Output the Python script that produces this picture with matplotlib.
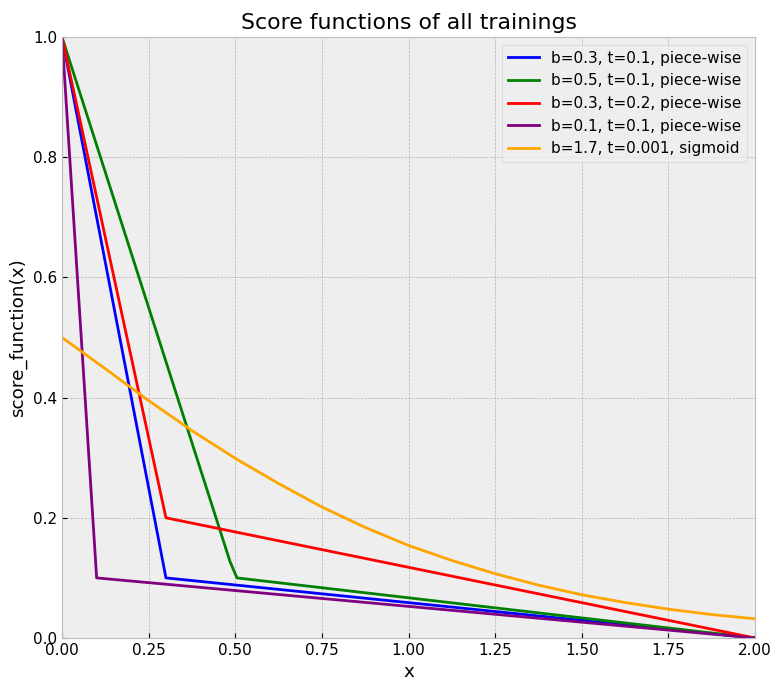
import matplotlib
matplotlib.use("Agg")
import matplotlib.pyplot as plt

plt.style.use("bmh")
plt.rcParams["font.size"] = 11

# piece-wise score functions
blue_x = [0.0, 0.3, 2.0]
blue_y = [1.0, 0.1, 0.0]
green_x = [0.0, 0.485, 0.505, 2.0]
green_y = [1.0, 0.127, 0.1, 0.0]
red_x = [0.0, 0.3, 2.0]
red_y = [1.0, 0.2, 0.0]
purple_x = [0.0, 0.1, 2.0]
purple_y = [1.0, 0.1, 0.0]
# sigmoid curve
sig_x = [0.0, 0.125, 0.25, 0.375, 0.5, 0.625, 0.75, 0.875, 1.0, 1.125,
         1.25, 1.375, 1.5, 1.625, 1.75, 1.875, 2.0]
sig_y = [0.5, 0.448, 0.395, 0.345, 0.299, 0.257, 0.218, 0.184, 0.154, 0.129,
         0.107, 0.088, 0.072, 0.059, 0.048, 0.039, 0.032]

labels = ["b=0.3, t=0.1, piece-wise", "b=0.5, t=0.1, piece-wise",
          "b=0.3, t=0.2, piece-wise", "b=0.1, t=0.1, piece-wise",
          "b=1.7, t=0.001, sigmoid"]
x_ticks = [0.0, 0.25, 0.5, 0.75, 1.0, 1.25, 1.5, 1.75, 2.0]
y_ticks = [0.0, 0.2, 0.4, 0.6, 0.8, 1.0]

fig = plt.figure(figsize=(7.76, 6.82), dpi=100)
ax = fig.add_axes([62/776, 1-638/682, (755-62)/776, (638-37)/682])
ax.plot(blue_x, blue_y, color="blue", lw=2, label=labels[0])
ax.plot(green_x, green_y, color="green", lw=2, label=labels[1])
ax.plot(red_x, red_y, color="red", lw=2, label=labels[2])
ax.plot(purple_x, purple_y, color="purple", lw=2, label=labels[3])
ax.plot(sig_x, sig_y, color="orange", lw=2, label=labels[4])
ax.set_xlim(0, 2)
ax.set_ylim(0, 1)
ax.set_xticks(x_ticks)
ax.set_yticks(y_ticks)
ax.set_title("Score functions of all trainings")
ax.set_xlabel("x")
ax.set_ylabel("score_function(x)")
ax.legend(loc="upper right")
fig.savefig("out.png", dpi=100)
